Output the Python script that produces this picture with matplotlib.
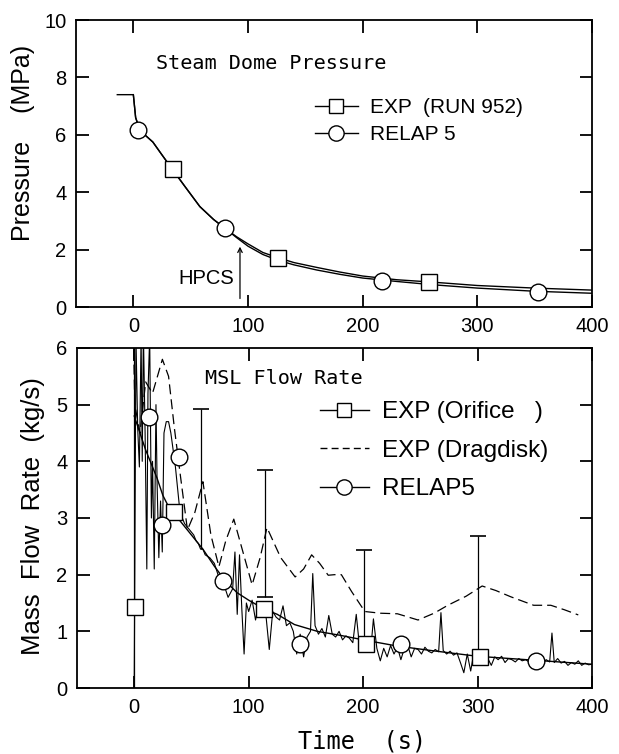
import matplotlib
matplotlib.use("Agg")
import matplotlib.pyplot as plt

# ── Steam dome pressure (MPa) ────────────────────────────────────────────────
p_exp_t = [-14, 0, 2, 5, 10, 17, 25, 34, 45, 58, 70, 80, 90, 100, 113, 126,
           140, 160, 180, 200, 230, 260, 300, 350, 400]
p_exp_v = [7.4, 7.4, 6.6, 6.25, 6.0, 5.75, 5.3, 4.8, 4.2, 3.5, 3.05, 2.74,
           2.45, 2.2, 1.9, 1.72, 1.55, 1.38, 1.22, 1.08, 0.95, 0.87, 0.75,
           0.66, 0.59]
p_rel_t = [0, 2, 5, 10, 17, 25, 34, 45, 58, 70, 80, 90, 100, 113, 126, 140,
           160, 180, 200, 230, 260, 300, 350, 400]
p_rel_v = [7.4, 6.6, 6.25, 6.0, 5.75, 5.3, 4.8, 4.2, 3.5, 3.05, 2.74, 2.42,
           2.12, 1.83, 1.63, 1.47, 1.29, 1.14, 1.01, 0.89, 0.78, 0.66, 0.55,
           0.48]
p_exp_mark_t = [34.5, 126, 258]
p_exp_mark_v = [4.81, 1.72, 0.88]
p_rel_mark_t = [4, 80, 217, 353]
p_rel_mark_v = [6.17, 2.74, 0.92, 0.52]

# ── MSL flow rate (kg/s) ─────────────────────────────────────────────────────
f_rel_t = [0, 10, 20, 25, 30, 40, 50, 60, 70, 80, 90, 100, 113, 125, 140,
           160, 180, 200, 230, 260, 300, 350, 400]
f_rel_v = [4.8, 4.2, 3.7, 3.4, 3.2, 2.95, 2.7, 2.45, 2.15, 1.88, 1.68, 1.55,
           1.4, 1.3, 1.12, 1.0, 0.93, 0.85, 0.74, 0.66, 0.56, 0.49, 0.42]

f_ori_t = [0, 1.5, 3, 4.5, 6, 7, 8, 9.5, 11, 12, 13.5, 15, 16, 17.5, 19, 20,
           21.5, 23, 24.5, 26, 28, 30, 32, 34, 36, 38, 40, 42, 44, 46, 48, 50,
           52, 54, 56, 58, 60,
           62, 66, 70, 74, 78, 82, 86, 88, 90, 92, 94, 96, 98, 100, 103, 106,
           109, 112, 115, 118, 121, 124, 127, 130, 133, 136, 139, 142, 145,
           148, 151, 154, 156, 158, 161, 164, 167, 170, 173, 176, 179, 182,
           185, 188, 191, 194, 196, 198, 201, 204, 207, 209, 212, 215, 218,
           221, 224, 227, 230, 233, 236, 239, 242, 245, 248, 251, 254, 257,
           260, 263, 266, 268, 270, 273, 276, 279, 282, 285, 288, 291, 294,
           297, 300, 303, 306, 309, 312, 315, 318, 321, 324, 327, 330, 333,
           336, 339, 342, 345, 348, 351, 354, 357, 360, 363, 365, 367, 370,
           373, 376, 379, 382, 385, 388, 391, 394, 397, 400]
f_ori_v = [0.0, 6.2, 4.6, 3.9, 6.2, 4.0, 6.3, 4.5, 2.1, 5.2, 6.2, 3.0, 4.0,
           2.1, 5.0, 3.6, 2.3, 3.3, 2.4, 4.5, 4.7, 4.7, 4.5, 4.2, 3.9, 3.5,
           3.1, 3.0, 2.9, 2.85, 2.8, 2.75, 2.7, 2.6, 2.55, 2.45, 2.45,
           2.35, 2.3, 2.2, 1.95, 1.85, 1.6, 1.75, 2.4, 1.3, 2.35, 1.4, 0.6,
           1.5, 1.35, 1.55, 1.2, 1.5, 1.45, 1.3, 0.68, 1.35, 1.25, 1.2, 1.45,
           1.1, 1.15, 1.0, 0.6, 0.95, 0.55, 0.9, 1.0, 2.02, 1.1, 0.95, 1.05,
           0.9, 1.28, 0.95, 0.9, 1.0, 0.85, 0.92, 0.88, 0.8, 1.3, 0.9, 0.82,
           0.85, 0.78, 0.75, 1.22, 0.7, 0.48, 0.7, 0.55, 0.75, 0.6, 0.72, 0.5,
           0.7, 0.75, 0.55, 0.7, 0.68, 0.6, 0.72, 0.65, 0.62, 0.68, 0.64,
           1.33, 0.66, 0.6, 0.65, 0.58, 0.62, 0.45, 0.27, 0.6, 0.3, 0.65, 0.6,
           0.5, 0.58, 0.52, 0.4, 0.55, 0.5, 0.56, 0.45, 0.52, 0.5, 0.46, 0.52,
           0.48, 0.5, 0.46, 0.49, 0.47, 0.5, 0.44, 0.5, 0.46, 0.97, 0.45, 0.52,
           0.44, 0.47, 0.4, 0.45, 0.42, 0.48, 0.4, 0.44, 0.41, 0.42]

f_drag_t = [-1, 0.5, 5, 10, 16, 24.6, 30, 35, 40, 46.5, 53, 60, 67, 74, 80,
            87, 95, 103, 110, 116, 128, 140.6, 148, 155, 162, 169.5, 175, 181,
            190, 201.5, 215, 230, 248, 262, 274, 290, 304, 316, 329, 349, 364,
            376, 388]
f_drag_v = [6.5, 5.0, 4.5, 5.4, 5.2, 5.8, 5.5, 4.6, 3.8, 2.79, 3.1, 3.64,
            2.7, 2.14, 2.6, 2.98, 2.4, 1.82, 2.3, 2.83, 2.3, 1.96, 2.1, 2.35,
            2.2, 1.99, 2.0, 2.0, 1.7, 1.35, 1.32, 1.31, 1.2, 1.32, 1.46, 1.62,
            1.8, 1.72, 1.61, 1.46, 1.46, 1.38, 1.29]

f_ori_mark_t = [0.5, 35, 113, 202.6, 302]
f_ori_mark_v = [1.43, 3.11, 1.39, 0.77, 0.55]
f_rel_mark_t = [13, 24, 39, 78, 145, 233, 350.7]
f_rel_mark_v = [4.78, 2.88, 4.07, 1.88, 0.78, 0.77, 0.48]

err_t = [0, 58, 114.5, 200.6, 300]
err_lo = [0.0, 2.45, 1.61, 0.75, 0.5]
err_hi = [6.4, 4.92, 3.84, 2.44, 2.69]

SANS = ["Liberation Sans", "DejaVu Sans"]
MONO = ["DejaVu Sans Mono"]
LW = 1.0
MS = 11

fig = plt.figure(figsize=(6.19, 7.54), dpi=100)
fig.patch.set_facecolor("white")


def style(ax, ylim, yticks):
    ax.set_xlim(-50, 400)
    ax.set_ylim(*ylim)
    ax.set_xticks([0, 100, 200, 300, 400])
    ax.set_yticks(yticks)
    ax.tick_params(direction="in", length=9, width=1.3, top=True, right=True,
                   labelsize=14.5, pad=7)
    for lab in ax.get_xticklabels() + ax.get_yticklabels():
        lab.set_family(SANS)
    for sp in ax.spines.values():
        sp.set_linewidth(1.3)


# ── top panel ────────────────────────────────────────────────────────────────
ax1 = fig.add_axes([0.1228, 0.5928, 0.8336, 0.3806])
style(ax1, (0, 10), [0, 2, 4, 6, 8, 10])
ax1.plot(p_exp_t, p_exp_v, color="black", lw=LW)
ax1.plot(p_rel_t, p_rel_v, color="black", lw=LW)
ax1.plot(p_exp_mark_t, p_exp_mark_v, ls="none", marker="s", ms=MS,
         mfc="white", mec="black", mew=1.0)
ax1.plot(p_rel_mark_t, p_rel_mark_v, ls="none", marker="o", ms=MS + 1,
         mfc="white", mec="black", mew=1.0)
h1, = ax1.plot([], [], color="black", lw=LW, marker="s", ms=MS - 1,
               mfc="white", mec="black", label="EXP  (RUN 952)")
h2, = ax1.plot([], [], color="black", lw=LW, marker="o", ms=MS,
               mfc="white", mec="black", label="RELAP 5")
ax1.legend(handles=[h1, h2], loc="upper left", bbox_to_anchor=(0.463, 0.728),
           frameon=False, prop={"family": SANS, "size": 15}, numpoints=1,
           handlelength=2.05, handletextpad=0.6, labelspacing=0.38,
           borderpad=0, borderaxespad=0)
ax1.text(20, 8.5, "Steam Dome Pressure", family=MONO, fontsize=14.5,
         va="center", ha="left")
ax1.annotate("", xy=(93, 2.2), xytext=(93, 0.2),
             arrowprops=dict(arrowstyle="->", color="black", lw=0.9,
                             mutation_scale=8))
ax1.text(64, 1.0, "HPCS", family=SANS, fontsize=14.5, ha="center",
         va="center")
fig.text(0.037, 0.81, "Pressure    (MPa)", rotation=90, family=SANS,
         fontsize=18, ha="center", va="center")

# ── bottom panel ─────────────────────────────────────────────────────────────
ax2 = fig.add_axes([0.1244, 0.0875, 0.832, 0.451])
style(ax2, (0, 6), [0, 1, 2, 3, 4, 5, 6])
ax2.plot(f_rel_t, f_rel_v, color="black", lw=LW)
ax2.plot(f_ori_t, f_ori_v, color="black", lw=0.8)
ax2.plot(f_drag_t, f_drag_v, color="black", lw=0.9, ls=(0, (8, 4)))
ax2.errorbar(err_t, err_lo, yerr=[[0] * len(err_t),
                                  [h - l for h, l in zip(err_hi, err_lo)]],
             fmt="none", ecolor="black", elinewidth=0.9, capsize=0)
ax2.plot(err_t[1:], err_hi[1:], ls="none", marker="_", ms=12, mew=1.2,
         color="black")
ax2.plot(err_t[2:3], err_lo[2:3], ls="none", marker="_", ms=12, mew=1.2,
         color="black")
ax2.plot(f_ori_mark_t, f_ori_mark_v, ls="none", marker="s", ms=MS,
         mfc="white", mec="black", mew=1.0)
ax2.plot(f_rel_mark_t, f_rel_mark_v, ls="none", marker="o", ms=MS + 1,
         mfc="white", mec="black", mew=1.0)
g1, = ax2.plot([], [], color="black", lw=LW, marker="s", ms=MS - 1,
               mfc="white", mec="black", label="EXP (Orifice   )")
g2, = ax2.plot([], [], color="black", lw=LW, ls=(0, (5, 3)),
               label="EXP (Dragdisk)")
g3, = ax2.plot([], [], color="black", lw=LW, marker="o", ms=MS,
               mfc="white", mec="black", label="RELAP5")
ax2.legend(handles=[g1, g2, g3], loc="upper left",
           bbox_to_anchor=(0.472, 0.843), frameon=False,
           prop={"family": SANS, "size": 17.5}, numpoints=1,
           handlelength=2.0, handletextpad=0.55, labelspacing=0.68,
           borderpad=0, borderaxespad=0)
ax2.text(62, 5.47, "MSL Flow Rate", family=MONO, fontsize=14.5,
         va="center", ha="left")
fig.text(0.053, 0.315, "Mass  Flow  Rate  (kg/s)", rotation=90,
         family=SANS, fontsize=18.5, ha="center", va="center")
fig.text(0.585, 0.017, "Time  (s)", family=MONO, fontsize=17,
         ha="center", va="center")

fig.savefig("out.png", dpi=100, facecolor="white")
